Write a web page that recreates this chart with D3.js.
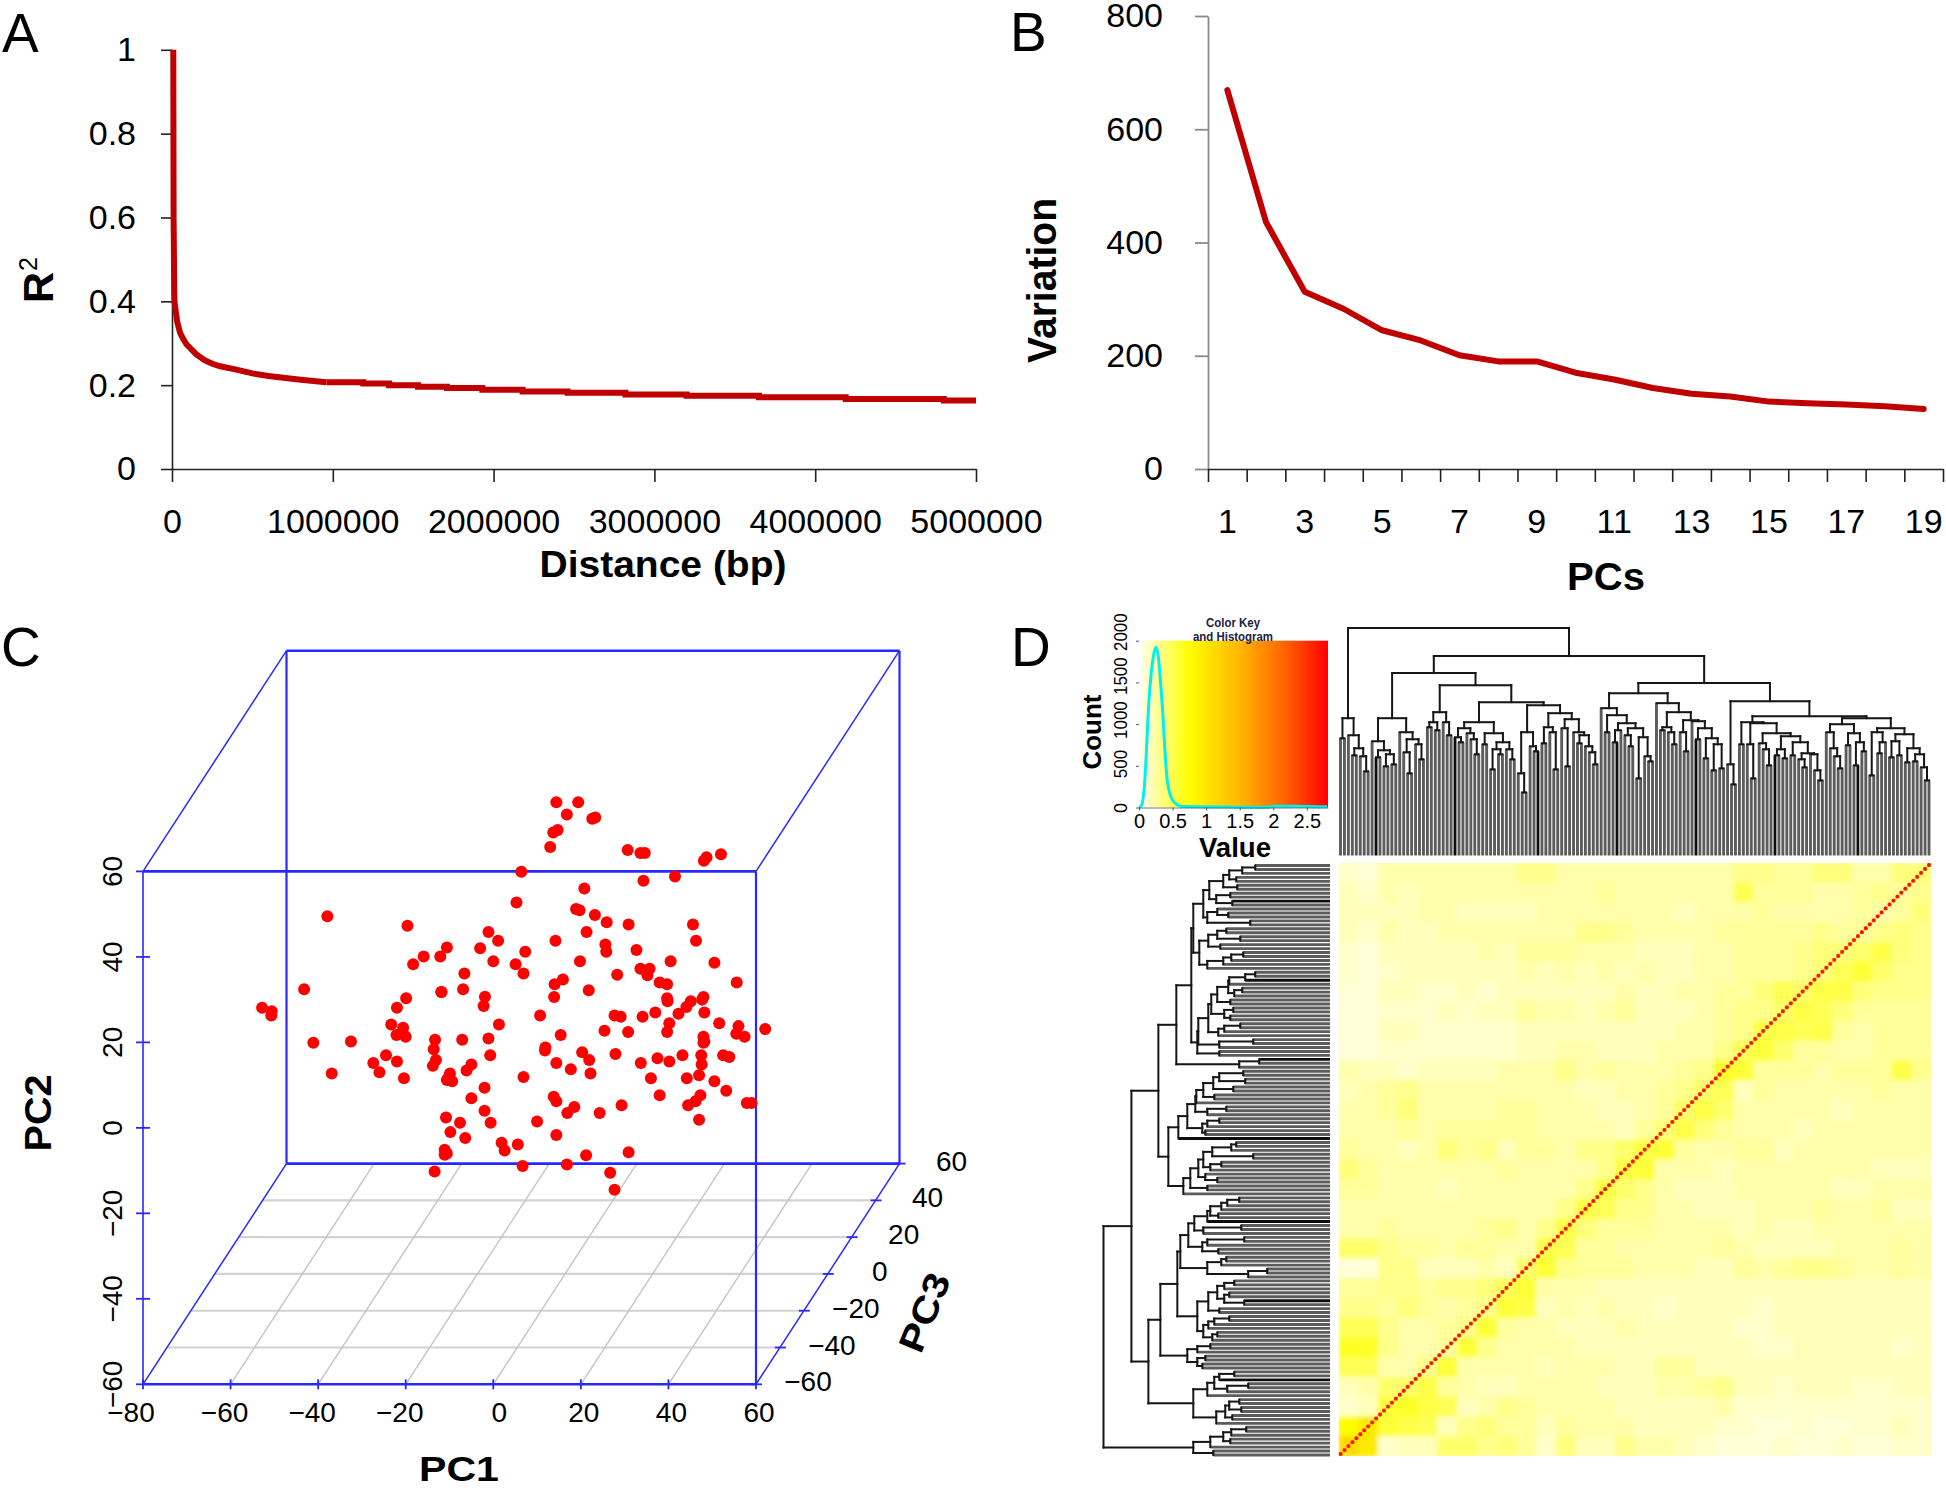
<!DOCTYPE html>
<html><head><meta charset="utf-8">
<script src="https://cdnjs.cloudflare.com/ajax/libs/d3/7.8.5/d3.min.js"></script>
<style>html,body{margin:0;padding:0;background:#fff}svg{display:block}text{font-family:"Liberation Sans",Arial,sans-serif;fill:#000}</style>
</head><body><svg id="c" width="1946" height="1490"></svg>
<script>
// ---------- Panel A ----------
const distHead=[8000,9000,10000,14000,16000,32000,50000,70000,91000,150000,200000,250000,300000,400000,500000,600000,800000,960000];
const r2Head=[1,.8,.6,.42,.397,.352,.325,.31,.297,.274,.26,.251,.245,.237,.228,.222,.213,.207];
const distTail=[960000,1190000,1350000,1530000,1710000,1930000,2180000,2460000,2820000,3200000,3650000,4190000,4800000,5000000];
const r2Tail=[.207,.204,.2,.196,.193,.189,.185,.182,.178,.1745,.171,.167,.1635,.1635];
const aXTicks=[0,1000000,2000000,3000000,4000000,5000000];
const aYTicks=[0,.2,.4,.6,.8,1];
// ---------- Panel B ----------
const pcs=d3.range(1,20);
const variation=[669,436,313,283,245,227,201,190,190,170,158,143,133,128,119,116,114,111,106];
const bYTicks=[0,200,400,600,800];
const bXLabels=[1,3,5,7,9,11,13,15,17,19];
// ---------- Panel C (positions read on the front-face scales) ----------
const pc1=[14.4,19.4,16.8,22.6,23.3,13.7,14.7,13,30.7,33.6,34.6,48.1,48.7,52,6.4,34.3,41.5,20.8,5.3,18.9,19.7,23.2,25.9,30.9,45.6,-37.9,-19.6,-1.1,1.1,21.3,14.2,46.3,-3,-10.6,-12.1,-15.9,-18.3,7.3,25.6,25.8,32.7,0,5.1,19.8,40.5,50.5,33.6,35.7,35.2,-6.6,6.9,28.3,15.9,14,38,39.7,55.6,-43.2,-6.9,-11.8,-11.9,21.8,-1.9,-19.9,13.9,39.7,39.8,48,47.7,45.1,44.1,-22,-2.2,-52.8,-50.6,-50.7,48.2,42.3,37,34.1,27.7,29.1,10.7,1.3,-23.3,-20.6,40.2,51.6,56,62.1,25.4,30.8,39.7,55.5,57.4,-20.6,-22.1,-20,15.4,-1.1,-13.3,-7.1,48,48.2,48,-41.1,-32.5,11.9,11.8,-13.6,20.3,27.9,-0.7,43.2,47.5,52.5,53.9,-24.5,-13.1,21.9,37.5,40.2,33.7,47.6,-27.4,-22,-5,14.4,-13.8,17.7,-6.1,-26,-36.9,-9.9,22.2,47,-10.3,-20.4,6.9,36,44.2,-10.6,-9.4,50.5,-2,53.2,13.8,38,47.3,-5,14.4,46.2,18.5,29.3,44.5,57.9,59,-2,16.9,24.3,-10.8,47,-7.6,-0.6,10,-9.8,14.4,-6.4,1.9,5.6,2.6,30.9,-11.1,-10.6,-11.1,21.2,6.7,16.8,-13.4,26.7,27.7];
const pc2=[76.2,76.2,73.3,72.3,72.6,69.1,69.7,65.7,65,64.3,64.3,62.5,63.3,64,59.9,57.8,58.8,56,52.7,51.2,50.9,49.8,48.1,47.6,47.6,49.5,47.3,45.8,43.8,45.8,43.8,43.8,42,42.2,40.1,40.1,38.3,41.2,42.9,41.2,41.6,39,38.3,39,39,38.6,37.2,37.2,35.7,36.1,36.1,35.8,34.7,33.6,34,33.6,34,32.4,32.4,31.8,31.8,32.2,30.7,30.3,30.6,30.3,29.6,30.6,30,29.6,28.3,28.1,28.5,28.1,27.3,26.3,27,26.7,27,26,26.3,26,26.3,24.2,24.2,23.4,24.5,24.5,23.8,23.1,22.7,22.4,22.4,22,21.3,22,21.7,21.3,21.7,20.9,20.6,20.6,21.3,20.2,19.9,19.9,20.2,18.8,18.1,18.4,17.7,17.3,17,17,17,17,16.6,17,15.9,15.9,16.3,15.5,15.2,14.8,15.2,15.5,14.8,15.2,14.5,13.7,13.4,13,12.7,12.7,12.7,12.3,11.6,11.6,11.9,11.6,11.6,11.2,10.9,10.9,9.4,8.7,7.3,7.6,7.6,6.9,6.2,6.2,4.9,5.3,5.3,5.8,5.8,4,3.5,3.5,2.4,1.9,1.2,1.2,1.5,-1,-1.7,-2.4,-3.5,-3.9,-5.3,-5.7,-5.1,-6,-6.3,-6.4,-8.9,-8.6,-10.2,-10.5,-14.5];
const pc1Ticks=[-80,-60,-40,-20,0,20,40,60];
const pc2Ticks=[-60,-40,-20,0,20,40,60];
const pc3Ticks=[-60,-40,-20,0,20,40,60];
// ---------- Panel D ----------
const histValue=[0,.04,.08,.15,.21,.25,.29,.34,.42,.5,.63,1,1.93,2.02,2.35,2.8];
const histCount=[0,28,250,1300,1790,1920,1790,1300,330,90,15,8,4,16,16,8];
const keyXTicks=[0,.5,1,1.5,2,2.5];
const keyYTicks=[0,500,1000,1500,2000];
const keyDomain=[0,.72,1.5,2.15,2.8];
const keyColors=['#ffffe8','#ffff00','#ffb400','#ff6400','#ff0000'];
// Dendrogram: node = [mergeHeight, left, right], leaf = 0
const clusterC1=[137,[117,0,0],[120,0,[107,[100,0,0],[99,0,[84,0,0]]]]];
const clusterC2=[137,[114,0,[105,[98,0,0],[101,[89,0,0],[91,0,0]]]],[123,0,[116,[103,0,[82,0,0]],[111,0,[96,0,0]]]]];
const clusterC3=[143,[133,[128,0,0],[125,0,0]],[133,0,[120,0,0]]];
const clusterW1=[133,[127,[118,0,[113,0,0]],[122,0,[116,0,[101,0,0]]]],[122,[111,0,0],[113,[106,[86,0,0],[101,0,0]],[106,0,[96,0,0]]]]];
const clusterW2=[150,[123,[82,0,[63,0,0]],[109,0,[104,0,0]]],[142,[128,[112,0,0],[123,0,[86,0,0]]],[136,[127,0,[89,0,0]],[123,0,[120,[112,0,0],[109,0,[103,0,[91,0,0]]]]]]]];
const clusterTa=[147,0,[140,[123,0,0],[132,[125,[113,0,0],0],[127,[120,0,[109,0,0]],[118,[77,0,0],[99,0,[94,0,0]]]]]]];
const clusterTb=[152,0,[143,[128,[125,0,0],[123,0,[111,0,0]]],[135,[123,0,[104,0,0]],[134,0,[127,[116,0,0],[117,[97,0,0],[111,[85,0,0],[87,0,0]]]]]]]];
const clusterM1=[133,[111,0,0],[132,[111,0,[77,0,0]],[122,[112,0,[106,0,[90,0,0]]],[119,[106,[100,0,0],[97,0,0]],[113,[100,0,0],[102,[96,0,[88,0,0]],[101,0,[85,0,[75,0,0]]]]]]]]];
const clusterM2=[137,[131,[123,0,[107,0,[99,0,[87,0,0]]]],[122,[110,0,0],[113,[90,0,0],[104,0,0]]]],[127,[123,[80,0,0],[113,[102,0,0],0]],[121,[114,[98,0,0],[100,0,0]],[107,[93,0,0],[101,[94,0,0],[88,0,[75,0,0]]]]]]];
const dendrogram=[227,clusterC1,[199,[182,clusterC2,[170,clusterC3,[153,clusterW1,clusterW2]]],[172,[162,clusterTa,clusterTb],[154,[91,0,[71,0,0]],[139,clusterM1,clusterM2]]]]];
const darkLeavesTop=[9,29,50,70,90,110,131];
const darkLeavesLeft=[19,39,59,80,100,120,140];
// Heat map, read on a coarse 30x30 grid, top row first, one level per block
const heatLevels=[.02,.05,.09,.14,.19,.24,.29,.34,.39,.45,.5,.55,.6,.75,.95,1.1];
const heatRows=[
"214444444664444444446655774477",
"324344444444454444449555445656",
"333344333344444443444544445457",
"324334444444665444455555655676",
"213333343555444333445556778a76",
"21233333343434343344555679b866",
"113322323333334334455798aa7666",
"112223233544345333456 68a975555".replace(' ',''),
"113322222333333334456aa9a54555",
"112222222334433344469b85544555",
"4332333344464544456cb5554555a6",
"345644444444334456893544444544",
"445744445544433458a84444434444",
"44454555554444357a754443444444",
"544347563554668ab5445534444444",
"75444444544446ab44434444444333",
"5544434444446a8643334444433444",
"444444444446a96644333444544533",
"44544445646a755544443433444444",
"8865545544a9554444454333344454",
"1166333438b6555444335456654454",
"556656679b44433333333333333333",
"66575456ba34343323333233333333",
"9964456b5443334333332233333333",
"cc6445b64444333333333223333323",
"99446b444434443355333333333333",
"3488a5433444433344563323332233",
"23bca9346544443333342222222222",
"deba93675535444333322112112232",
"fe2338867527336443211121121122"
];

// ---------- drawing ----------
const svg=d3.select('#c');
const FONT='"Liberation Sans",Arial,sans-serif';
function label(txt,x,y,opt={}){
  const t=svg.append('text').attr('transform',`translate(${x},${y}) rotate(${opt.rot||0})`)
    .attr('text-anchor',opt.anchor||'middle').style('font-size',(opt.size||34)+'px')
    .style('font-weight',opt.bold?'bold':'normal').text(txt);
  if(opt.fill) t.style('fill',opt.fill);
  if(opt.len) t.attr('textLength',opt.len).attr('lengthAdjust','spacingAndGlyphs');
  return t;
}
function styleAxis(g,color,width,size){
  g.selectAll('path,line').attr('stroke',color).attr('stroke-width',width);
  g.selectAll('text').style('font-size',size+'px').style('font-family',FONT).style('fill','#000');
}
// Panel letters
label('A',2,52,{anchor:'start',size:55});
label('B',1010,51,{anchor:'start',size:55});
label('C',1,666,{anchor:'start',size:55});
label('D',1011,666,{anchor:'start',size:55});

// Panel A
const ax=d3.scaleLinear([0,5000000],[172,976]);
const ay=d3.scaleLinear([0,1],[469,49.8]);
const gA=svg.append('g');
const aLeft=gA.append('g').attr('transform','translate(172,0)').call(d3.axisLeft(ay).tickValues(aYTicks).tickFormat(d=>String(d)).tickSize(11).tickPadding(25).tickSizeOuter(0));
styleAxis(aLeft,'#222',1.6,34);
const aBot=gA.append('g').attr('transform','translate(0,469)').call(d3.axisBottom(ax).tickValues(aXTicks).tickFormat(d=>String(d)).tickSize(13).tickPadding(27).tickSizeOuter(0));
styleAxis(aBot,'#222',1.6,34);
const ar=d3.line().x(d=>ax(d[0])).y(d=>ay(d[1]));
gA.append('path').attr('d',ar.curve(d3.curveLinear)(d3.zip(distHead,r2Head))).attr('fill','none').attr('stroke','#c00000').attr('stroke-width',6);
gA.append('path').attr('d',ar.curve(d3.curveStepAfter)(d3.zip(distTail,r2Tail))).attr('fill','none').attr('stroke','#c00000').attr('stroke-width',6);
label('Distance (bp)',663,577,{bold:true,size:37,len:247});
label('R',53,303,{bold:true,size:43,rot:-90,anchor:'start'});
label('2',37,271,{bold:false,size:25,rot:-90,anchor:'start'});

// Panel B
const bx=d3.scaleBand(pcs,[1208,1943]);
const by=d3.scaleLinear([0,800],[469,16]);
const bEdges=d3.scaleLinear([0,19],[1208,1943]);
const bLeft=svg.append('g').attr('transform','translate(1208,0)').call(d3.axisLeft(by).tickValues(bYTicks).tickFormat(d=>String(d)).tickSize(13).tickPadding(32).tickSizeOuter(0));
styleAxis(bLeft,'#8a8a8a',1.8,34);
const bBot=svg.append('g').attr('transform','translate(0,469)').call(d3.axisBottom(bEdges).tickValues(d3.range(20)).tickFormat('').tickSize(13).tickSizeOuter(0));
styleAxis(bBot,'#222',1.6,33);
svg.append('g').attr('transform','translate(0,469)').call(d3.axisBottom(bx).tickValues(bXLabels).tickSize(0).tickPadding(40)).call(g=>{g.select('path').remove();g.selectAll('text').style('font-size','34px').style('font-family',FONT).style('fill','#000');});
svg.append('path').attr('d',d3.line().x(d=>bx(d[0])+bx.bandwidth()/2).y(d=>by(d[1]))(d3.zip(pcs,variation))).attr('fill','none').attr('stroke','#c00000').attr('stroke-width',6).attr('stroke-linejoin','round').attr('stroke-linecap','round');
label('Variation',1056,363,{bold:true,size:40,rot:-90,anchor:'start',len:165});
label('PCs',1606,590,{bold:true,size:38,len:78});

// Panel C
const cx=d3.scaleLinear([-80,60],[143,756]);
const cy=d3.scaleLinear([-60,60],[1384.3,871.4]);
const cdx=d3.scaleLinear([-60,60],[0,143.5]);
const cdy=d3.scaleLinear([-60,60],[0,-220.7]);
const proj=(a,b,c)=>[cx(a)+cdx(c),cy(b)+cdy(c)];
const gC=svg.append('g');
const seg=(g,p,q,col,w)=>g.append('line').attr('x1',p[0]).attr('y1',p[1]).attr('x2',q[0]).attr('y2',q[1]).attr('stroke',col).attr('stroke-width',w);
pc3Ticks.slice(1,-1).forEach(c=>seg(gC,proj(-80,-60,c),proj(60,-60,c),'#d2d2d2',2.2));
pc1Ticks.slice(1,-1).forEach(a=>seg(gC,proj(a,-60,-60),proj(a,-60,60),'#c4c4c4',1.4));
const blue='#2828ff';
seg(gC,proj(-80,-60,60),proj(60,-60,60),blue,2.6);
seg(gC,proj(-80,60,60),proj(60,60,60),blue,2.6);
seg(gC,proj(-80,-60,60),proj(-80,60,60),blue,2.2);
seg(gC,proj(60,-60,60),proj(60,60,60),blue,2.2);
[[-80,-60],[60,-60],[-80,60],[60,60]].forEach(p=>seg(gC,proj(p[0],p[1],-60),proj(p[0],p[1],60),blue,1.5));
seg(gC,proj(-80,-60,-60),proj(60,-60,-60),blue,2.6);
seg(gC,proj(-80,60,-60),proj(60,60,-60),blue,2.6);
seg(gC,proj(-80,-60,-60),proj(-80,60,-60),blue,1.6);
seg(gC,proj(60,-60,-60),proj(60,60,-60),blue,2.2);
pc1Ticks.forEach(a=>{const p=proj(a,-60,-60);seg(gC,[p[0],p[1]-5],[p[0],p[1]+5],blue,1.8);
  label(String(a).replace('-','\u2212'),p[0]+(a===-80?-12:a<0?-6:(a===0?6:3)),1422,{size:28});});
pc2Ticks.forEach(b=>{const p=proj(-80,b,-60);seg(gC,[p[0]-7,p[1]],[p[0]+((b===60||b===-60)?0:7),p[1]],blue,1.8);
  label(String(b).replace('-','\u2212'),122,p[1],{size:28,rot:-90});});
pc3Ticks.forEach(c=>{const p=proj(60,-60,c);seg(gC,[p[0]-5,p[1]],[p[0]+6,p[1]],blue,1.8);
  label(String(c).replace('-','\u2212'),p[0]+52,p[1]+7,{size:28});});
gC.selectAll('circle.pt').data(d3.zip(pc1,pc2)).join('circle').attr('class','pt')
  .attr('cx',d=>cx(d[0])).attr('cy',d=>cy(d[1])).attr('r',6).attr('fill','#ff0000');
label('PC1',459,1481,{bold:true,size:35,len:80});
label('PC2',51,1113,{bold:true,size:37,rot:-90,len:77});
label('PC3',936,1317,{bold:true,size:36,rot:-68,len:82});

// Panel D - colour key
const keyColor=d3.scaleLinear(keyDomain,keyColors);
const kx=d3.scaleLinear([0,2.815],[1139,1328]);
const ky=d3.scaleLinear([0,2000],[807.5,640.7]);
const defs=svg.append('defs');
const grad=defs.append('linearGradient').attr('id','keyGrad');
d3.range(0,2.81,.1).forEach(v=>grad.append('stop').attr('offset',(v/2.8)).attr('stop-color',keyColor(v)));
svg.append('rect').attr('x',kx(.03)).attr('y',ky(2000)).attr('width',kx(2.815)-kx(.03)).attr('height',ky(0)-ky(2000)).attr('fill','url(#keyGrad)');
svg.append('path').attr('d',d3.line().x(d=>kx(d[0])).y(d=>ky(d[1])).curve(d3.curveMonotoneX)(d3.zip(histValue,histCount))).attr('fill','none').attr('stroke','#00f0f0').attr('stroke-width',3);
const kb=svg.append('g').attr('transform','translate(0,807.5)').call(d3.axisBottom(kx).tickValues(keyXTicks).tickFormat(d=>String(d)).tickSize(3).tickPadding(3).tickSizeOuter(0));
styleAxis(kb,'#555',1,20);
kb.select('path').attr('stroke-width',.8);
const kl=svg.append('g').attr('transform','translate(1139,0)').call(d3.axisLeft(ky).tickValues(keyYTicks).tickFormat(d=>String(d)).tickSize(3).tickPadding(3).tickSizeOuter(0));
styleAxis(kl,'#555',1,18);
kl.select('path').remove();
kl.selectAll('text').attr('text-anchor','middle').attr('x',0).attr('y',0).attr('dy','0.35em')
  .attr('transform',d=>`translate(-18,${-9*d/2000}) rotate(-90)`)
  .attr('textLength',d=>d?String(d).length*9.4:null).attr('lengthAdjust',d=>d?'spacingAndGlyphs':null);
label('Count',1101,732,{bold:true,size:26,rot:-90,len:75});
label('Value',1235,857,{bold:true,size:27,len:72});
label('Color Key',1233,627,{bold:true,size:12,fill:'#202040',len:54});
label('and Histogram',1233,641,{bold:true,size:12,fill:'#202040',len:80});

// Panel D - dendrogram layout
const nodes=[];let leafIndex=0;
function layout(n){
  if(n===0){const o={leaf:true,i:leafIndex++,h:0};o.pos=o.i;return o;}
  const a=layout(n[1]),b=layout(n[2]);
  const o={h:n[0],a,b,pos:(a.pos+b.pos)/2};nodes.push(o);return o;
}
layout(dendrogram);
const nLeaves=leafIndex;
if(pc1.length!==pc2.length) throw new Error('pc lengths '+pc1.length+' '+pc2.length);
if(nLeaves!==150) throw new Error('leaves '+nLeaves);
const topPos=d3.scaleLinear([0,nLeaves-1],[1340.5,1929]);
const topH=d3.scaleLinear([0,227],[855.5,628]);
const leftPos=d3.scaleLinear([0,nLeaves-1],[1455,865.5]);
const leftH=d3.scaleLinear([0,227],[1330,1103.5]);
defs.append('filter').attr('id','soft').attr('x','-2%').attr('y','-2%').attr('width','104%').attr('height','104%').append('feGaussianBlur').attr('stdDeviation',.55);
defs.append('filter').attr('id','heatBlur').attr('filterUnits','userSpaceOnUse').attr('x',1300).attr('y',830).attr('width',660).attr('height',660).append('feGaussianBlur').attr('stdDeviation',2.2);
function drawDendro(posS,hS,horizontal,dark){
  const g=svg.append('g').attr('filter','url(#soft)');
  const P=(p,h)=>horizontal?[posS(p),hS(h)]:[hS(h),posS(p)];
  const lg=d3.line();
  const leaves=[],inner=[];
  nodes.forEach(n=>{
    inner.push([P(n.a.pos,n.h),P(n.b.pos,n.h)]);
    [n.a,n.b].forEach(c=>{(c.leaf?leaves:inner).push(c.leaf?{i:c.i,s:[P(c.pos,0),P(c.pos,n.h)]}:[P(c.pos,c.h),P(c.pos,n.h)]);});
  });
  g.selectAll('path.leaf').data(leaves).join('path').attr('class','leaf').attr('d',d=>lg(d.s)).attr('fill','none')
    .attr('stroke',d=>dark.includes(d.i)?'#111':'#5c5c5c').attr('stroke-width',2.9);
  g.selectAll('path.inner').data(inner).join('path').attr('class','inner').attr('d',d=>lg(d)).attr('fill','none').attr('stroke','#141414').attr('stroke-width',2).attr('stroke-linecap','square');
}
drawDendro(topPos,topH,true,darkLeavesTop);
drawDendro(leftPos,leftH,false,darkLeavesLeft);

// Panel D - heat map
const hx=d3.scaleBand(d3.range(30),[1338.6,1931]);
const hy=d3.scaleBand(d3.range(30),[863,1456]);
defs.append('clipPath').attr('id','heatClip').append('rect').attr('x',1338.6).attr('y',863).attr('width',592.4).attr('height',593);
const gHeat=svg.append('g').attr('clip-path','url(#heatClip)');
gHeat.append('rect').attr('x',1338.6).attr('y',863).attr('width',592.4).attr('height',593).attr('fill',keyColor(.15));
const gBlocks=gHeat.append('g').attr('filter','url(#heatBlur)');
heatRows.forEach((row,r)=>{
  gBlocks.selectAll(null).data(Array.from(row)).join('rect')
   .attr('x',(d,c)=>hx(c)).attr('y',hy(r)).attr('width',hx.bandwidth()+.5).attr('height',hy.bandwidth()+.5)
   .attr('fill',d=>keyColor(heatLevels[parseInt(d,16)]));
});
const dg=d3.scaleBand(d3.range(nLeaves),[0,592.4]);
const dy=d3.scaleBand(d3.range(nLeaves),[593,0]);
const gDiag=gHeat.append('g').attr('filter','url(#soft)');
gDiag.selectAll('rect').data(d3.range(nLeaves)).join('rect')
  .attr('x',d=>1338.6+dg(d)).attr('y',d=>863+dy(d)).attr('width',dg.bandwidth()).attr('height',dy.bandwidth()).attr('fill','#ffa000').attr('opacity',.75);
gDiag.selectAll('circle').data(d3.range(nLeaves)).join('circle')
  .attr('cx',d=>1338.6+dg(d)+dg.bandwidth()/2).attr('cy',d=>863+dy(d)+dy.bandwidth()/2).attr('r',1.9).attr('fill','#ff0c00');
</script></body></html>
